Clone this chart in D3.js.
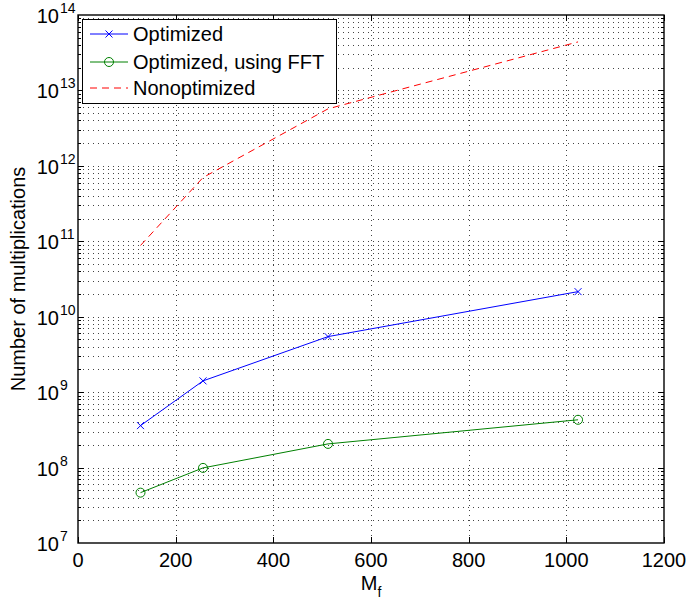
<html>
<head>
<script src="https://d3js.org/d3.v7.min.js"></script>
<style>
  body { margin: 0; background: #fff; }
  text { font-family: "Liberation Sans", Arial, sans-serif; }
</style>
</head>
<body>
<svg width="688" height="601"></svg>
<script>
// data
var mf = [128, 256, 512, 1024];
var optimized = [3.6e8, 1.41e9, 5.45e9, 2.15e10];
var optimizedFFT = [4.65e7, 9.9e7, 2.06e8, 4.3e8];
var nonoptimized = [8.8e10, 7.0e11, 5.7e12, 4.4e13];
var xTicks = [0, 200, 400, 600, 800, 1000, 1200];
var yExps = [7, 8, 9, 10, 11, 12, 13, 14];
var seriesNames = ["Optimized", "Optimized, using FFT", "Nonoptimized"];

var svg = d3.select("svg");
var L = 78, R = 664, T = 15, B = 543;
var fs = 20;

var x = d3.scaleLinear().domain([0, 1200]).range([L, R]);
var y = d3.scaleLog().domain([1e7, 1e14]).range([B, T]);

// grid
var grid = svg.append("g").attr("stroke", "#444").attr("stroke-width", 1)
  .attr("stroke-dasharray", "1,4");
var minorVals = [];
yExps.slice(0, -1).forEach(function(e) {
  for (var k = 2; k <= 9; k++) minorVals.push(k * Math.pow(10, e));
});
var majorVals = yExps.slice(1, -1).map(function(e) { return Math.pow(10, e); });
grid.selectAll(".gy").data(minorVals.concat(majorVals)).join("line")
  .attr("x1", L).attr("x2", R)
  .attr("y1", d => Math.round(y(d)) + 0.5).attr("y2", d => Math.round(y(d)) + 0.5);
grid.selectAll(".gx").data(xTicks.slice(1, -1)).join("line")
  .attr("class", "gx")
  .attr("y1", T).attr("y2", B)
  .attr("x1", d => Math.round(x(d)) + 0.5).attr("x2", d => Math.round(x(d)) + 0.5);

// ticks (inward, all sides)
var tk = svg.append("g").attr("stroke", "#000").attr("stroke-width", 1);
xTicks.forEach(function(v) {
  var px = Math.round(x(v)) + 0.5;
  tk.append("line").attr("x1", px).attr("x2", px).attr("y1", B).attr("y2", B - 6);
  tk.append("line").attr("x1", px).attr("x2", px).attr("y1", T).attr("y2", T + 6);
});
majorVals.forEach(function(v) {
  var py = Math.round(y(v)) + 0.5;
  tk.append("line").attr("x1", L).attr("x2", L + 6).attr("y1", py).attr("y2", py);
  tk.append("line").attr("x1", R).attr("x2", R - 6).attr("y1", py).attr("y2", py);
});
minorVals.forEach(function(v) {
  var py = Math.round(y(v)) + 0.5;
  tk.append("line").attr("x1", L).attr("x2", L + 3).attr("y1", py).attr("y2", py);
  tk.append("line").attr("x1", R).attr("x2", R - 3).attr("y1", py).attr("y2", py);
});

// frame
svg.append("rect").attr("x", L).attr("y", T).attr("width", R - L).attr("height", B - T)
  .attr("fill", "none").attr("stroke", "#000").attr("stroke-width", 1.4);

// tick labels
svg.append("g").selectAll("text").data(xTicks).join("text")
  .attr("x", d => x(d)).attr("y", B + 24)
  .attr("text-anchor", "middle").attr("font-size", fs).text(d => d);

svg.append("g").selectAll("text").data(yExps).join("text")
  .attr("x", 59).attr("y", d => y(Math.pow(10, d)) + 8)
  .attr("text-anchor", "end").attr("font-size", fs).text("10");
svg.append("g").selectAll("text").data(yExps).join("text")
  .attr("x", 60).attr("y", d => y(Math.pow(10, d)) - 2)
  .attr("font-size", 14).text(d => d);

// axis titles
svg.append("text").attr("transform", "translate(25," + ((T + B) / 2) + ") rotate(-90)")
  .attr("text-anchor", "middle").attr("font-size", fs).text("Number of multiplications");
var xt = svg.append("text").attr("x", 371).attr("y", 590).attr("text-anchor", "middle").attr("font-size", fs);
xt.append("tspan").text("M");
xt.append("tspan").attr("dy", 7).attr("font-size", 14).text("f");

// series
var line = d3.line().x(d => x(d[0])).y(d => y(d[1]));
function pts(vals) { return mf.map((m, i) => [m, vals[i]]); }

svg.append("path").datum(pts(nonoptimized)).attr("d", line)
  .attr("fill", "none").attr("stroke", "#ff0000").attr("stroke-width", 1)
  .attr("stroke-dasharray", "7,5");

svg.append("path").datum(pts(optimized)).attr("d", line)
  .attr("fill", "none").attr("stroke", "#0000ff").attr("stroke-width", 1);
function xMark(g, cx, cy, col) {
  g.append("path").attr("d", "M" + (cx - 3.5) + "," + (cy - 3.5) + "L" + (cx + 3.5) + "," + (cy + 3.5) +
    "M" + (cx - 3.5) + "," + (cy + 3.5) + "L" + (cx + 3.5) + "," + (cy - 3.5))
    .attr("stroke", col).attr("stroke-width", 1).attr("fill", "none");
}
pts(optimized).forEach(function(p) { xMark(svg, x(p[0]), y(p[1]), "#0000ff"); });

svg.append("path").datum(pts(optimizedFFT)).attr("d", line)
  .attr("fill", "none").attr("stroke", "#008000").attr("stroke-width", 1);
svg.append("g").selectAll("circle").data(pts(optimizedFFT)).join("circle")
  .attr("cx", d => x(d[0])).attr("cy", d => y(d[1])).attr("r", 4.5)
  .attr("fill", "none").attr("stroke", "#008000").attr("stroke-width", 1);

// legend
var lg = svg.append("g");
lg.append("rect").attr("x", 82.5).attr("y", 19.5).attr("width", 254).attr("height", 84)
  .attr("fill", "#fff").attr("stroke", "#000").attr("stroke-width", 1);
var cols = ["#0000ff", "#008000", "#ff0000"];
var ly = [34, 62, 88];
seriesNames.forEach(function(name, i) {
  var ln = lg.append("line").attr("x1", 90).attr("x2", 128).attr("y1", ly[i]).attr("y2", ly[i])
    .attr("stroke", cols[i]).attr("stroke-width", 1);
  if (i === 2) ln.attr("stroke-dasharray", "7,5");
  if (i === 0) xMark(lg, 109, ly[i], cols[i]);
  if (i === 1) lg.append("circle").attr("cx", 109).attr("cy", ly[i]).attr("r", 4.5)
    .attr("fill", "none").attr("stroke", cols[i]);
  lg.append("text").attr("x", 133).attr("y", ly[i] + 7).attr("font-size", fs).text(name);
});
</script>
</body>
</html>
